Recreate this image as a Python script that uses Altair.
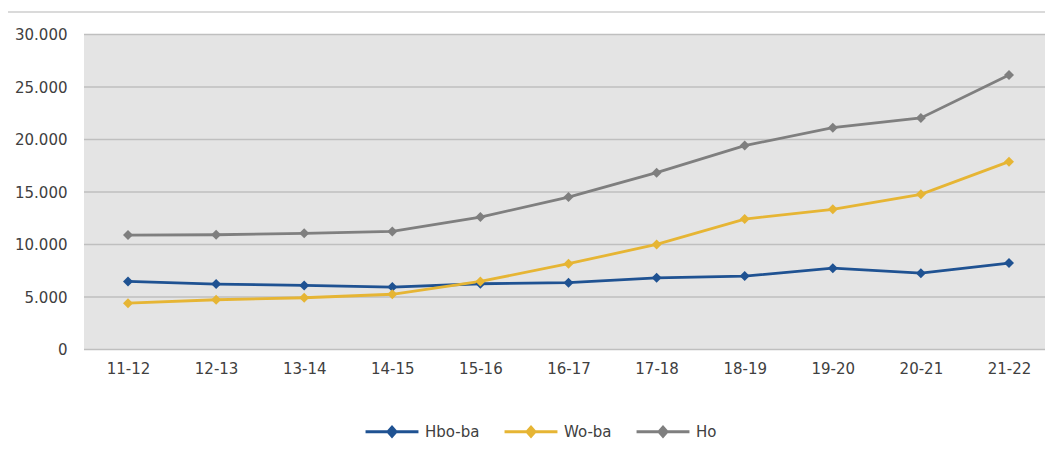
import altair as alt
import pandas as pd

categories = ["11-12", "12-13", "13-14", "14-15", "15-16", "16-17", "17-18", "18-19", "19-20", "20-21", "21-22"]
series_names = ["Hbo-ba", "Wo-ba", "Ho"]
hbo_ba = [6480, 6230, 6100, 5950, 6260, 6360, 6830, 6990, 7750, 7270, 8230]
wo_ba = [4410, 4740, 4930, 5260, 6480, 8170, 10010, 12420, 13350, 14780, 17890]
ho = [10900, 10930, 11060, 11250, 12610, 14520, 16840, 19420, 21130, 22050, 26150]
colors = ["#1F5292", "#E6B534", "#7F7F7F"]
y_ticks = [0, 5000, 10000, 15000, 20000, 25000, 30000]

rows = []
for name, vals in zip(series_names, [hbo_ba, wo_ba, ho]):
    for c, v in zip(categories, vals):
        rows.append({"jaar": c, "serie": name, "aantal": v})
df = pd.DataFrame(rows)
grid_df = pd.DataFrame({"aantal": y_ticks})

W, H = 961, 315
FONT = "DejaVu Sans"
TXT = "#404040"

x_enc = alt.X("jaar:N", sort=categories, title=None,
              scale=alt.Scale(type="point", padding=0, range=[44, 925]),
              axis=alt.Axis(labelAngle=0, domain=False, ticks=False, grid=False,
                            labelPadding=12, labelFontSize=15, labelFont=FONT, labelColor=TXT))
y_scale = alt.Scale(domain=[0, 30000], nice=False)
y_axis = alt.Axis(values=y_ticks, domain=False, ticks=False, grid=False,
                  labelExpr="replace(format(datum.value, ','), ',', '.')",
                  labelPadding=17, labelFontSize=15, labelFont=FONT, labelColor=TXT)
y_enc = alt.Y("aantal:Q", title=None, scale=y_scale, axis=y_axis)

legend_path = "M-1,0L1,0M0,-0.17L0.15,0L0,0.17L-0.15,0Z"
color_scale = alt.Scale(domain=series_names, range=colors)

grid = alt.Chart(grid_df).mark_rule(color="#BFBFBF", strokeWidth=1.6).encode(
    y=alt.Y("aantal:Q", title=None, scale=y_scale, axis=y_axis),
    x=alt.value(0), x2=alt.value(W))

base = alt.Chart(df)
lines = base.mark_line(strokeWidth=2.8).encode(
    x=x_enc, y=y_enc,
    color=alt.Color("serie:N", scale=color_scale, sort=series_names,
                    legend=alt.Legend(title=None, orient="none", direction="horizontal",
                                      legendX=280, legendY=369,
                                      symbolType=legend_path, symbolSize=2800,
                                      symbolStrokeWidth=3, labelOffset=5,
                                      columnPadding=18,
                                      labelFontSize=15, labelFont=FONT, labelColor=TXT)),
)
points = base.mark_point(shape="diamond", filled=True, size=100, opacity=1).encode(
    x=x_enc, y=y_enc,
    color=alt.Color("serie:N", scale=color_scale, sort=series_names, legend=None),
)

border_left = alt.Chart(df).mark_rule(color="#D9D9D9", strokeWidth=1.2).encode(
    x=alt.value(-77), y=alt.value(-22.5), y2=alt.value(430))
border_top = alt.Chart(df).mark_rule(color="#D9D9D9", strokeWidth=1.2).encode(
    x=alt.value(-77), x2=alt.value(W), y=alt.value(-22.5))

chart = alt.layer(border_left, border_top, grid, lines, points).properties(
    width=W, height=H,
    autosize=alt.AutoSizeParams(type="none"),
    padding={"left": 76, "top": 26.5, "right": 0, "bottom": 95},
    background="white",
).configure_view(fill="#E4E4E4", stroke=None)

chart.save("out.html", embed_options={"renderer": "svg", "actions": False})
